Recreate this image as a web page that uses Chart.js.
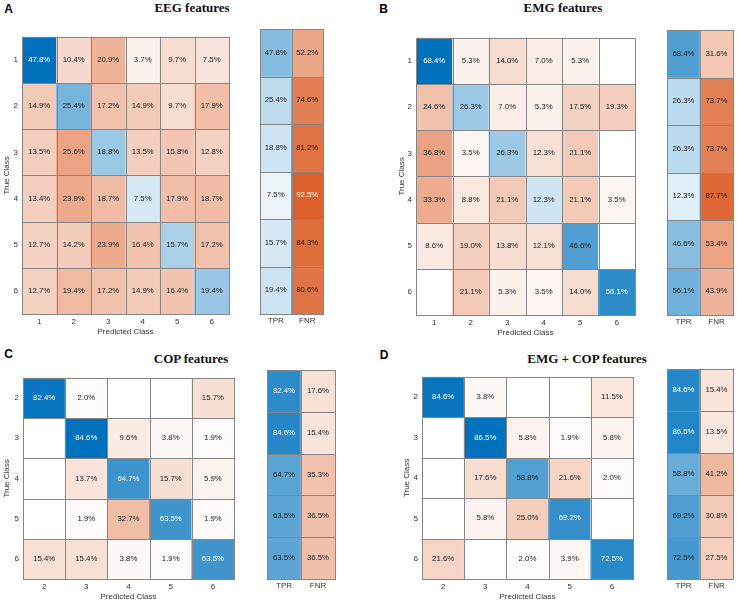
<!DOCTYPE html>
<html lang="en">
  <head>
    <meta charset="UTF-8" />
    <meta name="viewport" content="width=device-width, initial-scale=1.0" />
    <title>Confusion matrices</title>
    <style>
      body { margin: 0; width: 737px; height: 604px; background: #fff; position: relative; overflow: hidden; }
      .box { position: absolute; }
      .title { position: absolute; transform: translate(-50%, -50%); white-space: nowrap;
        font: bold 13px "Liberation Serif", "Times New Roman", serif; color: #111; }
      .letter { position: absolute; transform: translate(-50%, -50%);
        font: bold 12px "Liberation Sans", Arial, sans-serif; color: #000; }
    </style>
  </head>
  <body>
    <div class="letter" style="left: 8.5px; top: 9px">A</div>
    <div class="letter" style="left: 383.5px; top: 9px">B</div>
    <div class="letter" style="left: 8.5px; top: 353.5px">C</div>
    <div class="letter" style="left: 384px; top: 354.5px">D</div>
    <div class="title" style="left: 192px; top: 8px">EEG features</div>
    <div class="title" style="left: 563px; top: 8px">EMG features</div>
    <div class="title" style="left: 191px; top: 358.5px">COP features</div>
    <div class="title" style="left: 587px; top: 358.5px">EMG + COP features</div>

    <script src="https://cdn.jsdelivr.net/npm/chart.js"></script>
    <script>
      // class labels
      const sixClasses = ["1", "2", "3", "4", "5", "6"];
      const fiveClasses = ["2", "3", "4", "5", "6"];
      const rateLabels = ["TPR", "FNR"];

      // row-normalised confusion matrices (%), 0 = empty cell
      const eegMatrix = [
        [47.8, 10.4, 20.9, 3.7, 9.7, 7.5],
        [14.9, 25.4, 17.2, 14.9, 9.7, 17.9],
        [13.5, 25.6, 18.8, 13.5, 15.8, 12.8],
        [13.4, 23.9, 18.7, 7.5, 17.9, 18.7],
        [12.7, 14.2, 23.9, 16.4, 15.7, 17.2],
        [12.7, 19.4, 17.2, 14.9, 16.4, 19.4],
      ];
      const eegTPR = [47.8, 25.4, 18.8, 7.5, 15.7, 19.4];
      const eegFNR = [52.2, 74.6, 81.2, 92.5, 84.3, 80.6];

      const emgMatrix = [
        [68.4, 5.3, 14.0, 7.0, 5.3, 0],
        [24.6, 26.3, 7.0, 5.3, 17.5, 19.3],
        [36.8, 3.5, 26.3, 12.3, 21.1, 0],
        [33.3, 8.8, 21.1, 12.3, 21.1, 3.5],
        [8.6, 19.0, 13.8, 12.1, 46.6, 0],
        [0, 21.1, 5.3, 3.5, 14.0, 56.1],
      ];
      const emgTPR = [68.4, 26.3, 26.3, 12.3, 46.6, 56.1];
      const emgFNR = [31.6, 73.7, 73.7, 87.7, 53.4, 43.9];

      const copMatrix = [
        [82.4, 2.0, 0, 0, 15.7],
        [0, 84.6, 9.6, 3.8, 1.9],
        [0, 13.7, 64.7, 15.7, 5.9],
        [0, 1.9, 32.7, 63.5, 1.9],
        [15.4, 15.4, 3.8, 1.9, 63.5],
      ];
      const copTPR = [82.4, 84.6, 64.7, 63.5, 63.5];
      const copFNR = [17.6, 15.4, 35.3, 36.5, 36.5];

      const emgCopMatrix = [
        [84.6, 3.8, 0, 0, 11.5],
        [0, 86.5, 5.8, 1.9, 5.8],
        [0, 17.6, 58.8, 21.6, 2.0],
        [0, 5.8, 25.0, 69.2, 0],
        [21.6, 0, 2.0, 3.9, 72.5],
      ];
      const emgCopTPR = [84.6, 86.5, 58.8, 69.2, 72.5];
      const emgCopFNR = [15.4, 13.5, 41.2, 30.8, 27.5];

      Chart.defaults.font.family = '"Liberation Sans", Arial, sans-serif';
      Chart.defaults.font.size = 8;
      Chart.defaults.color = "#333";

      const blue = [0, 114, 189];
      const orange = [217, 83, 25];
      const lineColor = "#868686";

      function mix(base, t) {
        return base.map((c) => Math.round(255 - t * (255 - c)));
      }
      function fillOf(base, t) {
        if (t <= 0) return "#ffffff";
        return "rgb(" + mix(base, t).join(",") + ")";
      }
      function textOf(base, t) {
        const c = mix(base, t);
        const l = 0.299 * c[0] + 0.587 * c[1] + 0.114 * c[2];
        return l < 130 ? "#ffffff" : "#222222";
      }

      // cell outlines (shared 1px edges) + the percentage in each cell
      const cellText = {
        id: "cellText",
        afterDatasetsDraw(chart) {
          const ctx = chart.ctx;
          ctx.save();
          ctx.strokeStyle = lineColor;
          ctx.lineWidth = 1;
          chart.data.datasets.forEach((ds, i) => {
            chart.getDatasetMeta(i).data.forEach((bar) => {
              const x0 = Math.round(bar.x - bar.width / 2) + 0.5;
              const x1 = Math.round(bar.x + bar.width / 2) + 0.5;
              const y0 = Math.round(Math.min(bar.y, bar.base)) + 0.5;
              const y1 = Math.round(Math.max(bar.y, bar.base)) + 0.5;
              ctx.strokeRect(x0, y0, x1 - x0, y1 - y0);
            });
          });
          ctx.font = '7.8px "Liberation Sans", Arial, sans-serif';
          ctx.textAlign = "center";
          ctx.textBaseline = "middle";
          chart.data.datasets.forEach((ds, i) => {
            chart.getDatasetMeta(i).data.forEach((bar, j) => {
              const v = ds.values[j];
              if (!v) return;
              ctx.fillStyle = ds.textColors[j];
              ctx.fillText(v.toFixed(1) + "%", bar.x, (bar.y + bar.base) / 2);
            });
          });
          ctx.restore();
        },
      };

      function makeChart(area, cols, rows, values, baseOf, norm, ax) {
        const wrap = document.createElement("div");
        wrap.className = "box";
        wrap.style.left = area.l - ax.yW + "px";
        wrap.style.top = area.t - 1 + "px";
        wrap.style.width = ax.yW + (area.r - area.l) + 2 + "px";
        wrap.style.height = 1 + (area.b - area.t) + ax.xH + "px";
        const cv = document.createElement("canvas");
        wrap.appendChild(cv);
        document.body.appendChild(wrap);

        const datasets = rows.map((r, i) => {
          const row = values[i];
          return {
            data: cols.map(() => [i + 0.5, i + 1.5]),
            values: row,
            backgroundColor: row.map((v, j) => fillOf(baseOf(i, j), v / norm)),
            textColors: row.map((v, j) => textOf(baseOf(i, j), v / norm)),
          };
        });

        new Chart(cv, {
          type: "bar",
          data: { labels: cols, datasets },
          options: {
            responsive: true,
            maintainAspectRatio: false,
            animation: false,
            events: [],
            layout: { padding: { top: 1, right: 2, left: 0, bottom: 0 } },
            datasets: {
              bar: { grouped: false, barPercentage: 1, categoryPercentage: 1, borderWidth: 0 },
            },
            plugins: { legend: { display: false }, tooltip: { enabled: false } },
            scales: {
              x: {
                grid: { display: false, drawTicks: false },
                border: { display: false },
                ticks: { padding: ax.xPad, color: "#333" },
                title: {
                  display: !!ax.xTitle,
                  text: ax.xTitle,
                  color: "#333",
                  padding: { top: 0, bottom: 3 },
                },
                afterFit: (s) => { s.height = ax.xH; },
              },
              y: {
                type: "linear",
                reverse: true,
                min: 0.5,
                max: rows.length + 0.5,
                afterBuildTicks: (s) => {
                  s.ticks = rows.map((_, i) => ({ value: i + 1 }));
                },
                grid: { display: false, drawTicks: false },
                border: { display: false },
                ticks: {
                  display: !!ax.yTicks,
                  padding: 4,
                  color: "#333",
                  callback: (v, i) => rows[i],
                },
                title: {
                  display: !!ax.yTitle,
                  text: ax.yTitle,
                  color: "#333",
                  padding: { top: ax.yTitlePad || 0, bottom: 0 },
                },
                afterFit: (s) => { s.width = ax.yW; },
              },
            },
          },
          plugins: [cellText],
        });
      }

      const diagBase = (i, j) => (i === j ? blue : orange);
      const rateBase = (i, j) => (j === 0 ? blue : orange);
      const maxOf = (m) => Math.max(...m.flat());
      const pairs = (a, b) => a.map((v, i) => [v, b[i]]);

      const panels = [
        { main: { l: 22, t: 29, r: 229, b: 314 }, side: { l: 260, t: 29, r: 323, b: 314 },
          cls: sixClasses, m: eegMatrix, tpr: eegTPR, fnr: eegFNR, yW: 22, yPad: 1.5 },
        { main: { l: 416, t: 30, r: 635, b: 315 }, side: { l: 667, t: 30, r: 733, b: 315 },
          cls: sixClasses, m: emgMatrix, tpr: emgTPR, fnr: emgFNR, yW: 22, yPad: 3 },
        { main: { l: 23, t: 370, r: 234, b: 579 }, side: { l: 267, t: 370, r: 335, b: 579 },
          cls: fiveClasses, m: copMatrix, tpr: copTPR, fnr: copFNR, yW: 23, yPad: 1.5 },
        { main: { l: 422, t: 369, r: 633, b: 579 }, side: { l: 667, t: 369, r: 733, b: 579 },
          cls: fiveClasses, m: emgCopMatrix, tpr: emgCopTPR, fnr: emgCopFNR, yW: 22, yPad: 2 },
      ];

      panels.forEach((p) => {
        makeChart(p.main, p.cls, p.cls, p.m, diagBase, maxOf(p.m), {
          yW: p.yW, xH: 26, xPad: 3, yTicks: true,
          xTitle: "Predicted Class", yTitle: "True Class", yTitlePad: p.yPad,
        });
        makeChart(p.side, rateLabels, p.cls, pairs(p.tpr, p.fnr), rateBase, 100, {
          yW: 0, xH: 14, xPad: 2, yTicks: false,
        });
      });
    </script>
  </body>
</html>
